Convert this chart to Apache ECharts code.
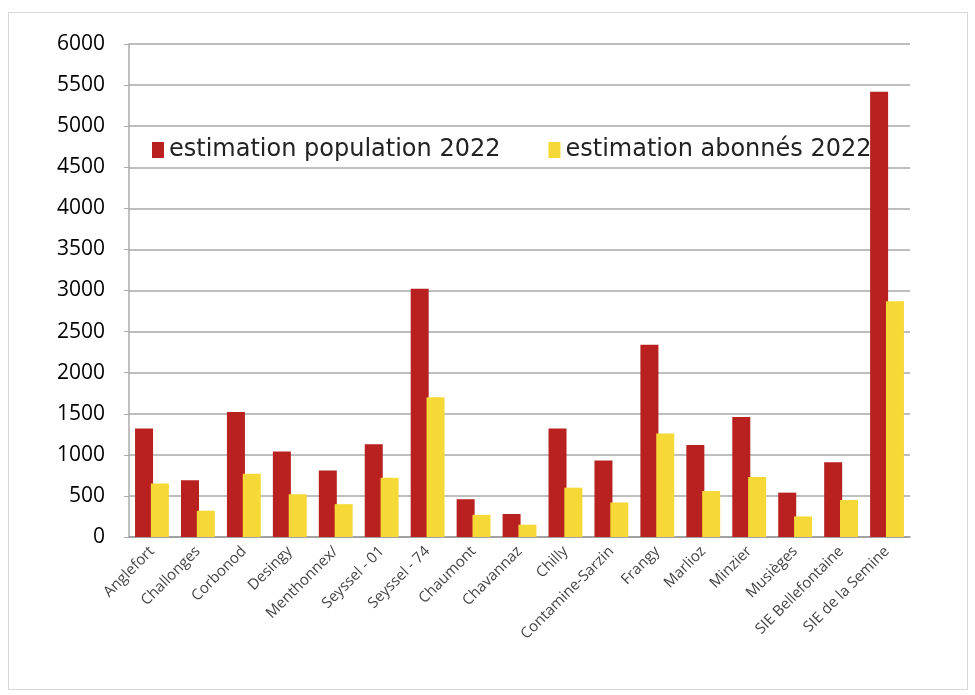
<!DOCTYPE html>
<html>
<head>
<meta charset="utf-8">
<style>
html,body{margin:0;padding:0;background:#fff;}
#main{position:absolute;left:8px;top:12px;width:960px;height:678px;border:1px solid #d8d8d8;box-sizing:border-box;}
</style>
</head>
<body>
<div id="main"></div>
<script src="https://cdn.jsdelivr.net/npm/echarts@6/dist/echarts.min.js"></script>
<script>
var communes = ['Anglefort', 'Challonges', 'Corbonod', 'Desingy', 'Menthonnex/', 'Seyssel - 01', 'Seyssel - 74',
    'Chaumont', 'Chavannaz', 'Chilly', 'Contamine-Sarzin', 'Frangy', 'Marlioz', 'Minzier', 'Musièges',
    'SIE Bellefontaine', 'SIE de la Semine'];
var population = [1320, 690, 1520, 1040, 810, 1130, 3020, 460, 280, 1320, 930, 2340, 1120, 1460, 540, 910, 5420];
var abonnes = [650, 320, 770, 520, 400, 720, 1700, 270, 150, 600, 420, 1260, 560, 730, 250, 450, 2870];
var yTicks = [0, 500, 1000, 1500, 2000, 2500, 3000, 3500, 4000, 4500, 5000, 5500, 6000];

var myChart = echarts.init(document.getElementById('main'));
var option = {
    backgroundColor: '#fff',
    textStyle: { fontFamily: 'Open Sans' },
    legend: {
        left: 138,
        top: 120,
        itemWidth: 12,
        itemHeight: 16,
        itemGap: 48,
        icon: 'rect',
        textStyle: { fontSize: 24, color: '#222', fontFamily: 'DejaVu Sans' },
        data: ['estimation population 2022', 'estimation abonnés 2022']
    },
    grid: { left: 120, right: 57, top: 31, bottom: 152 },
    xAxis: {
        type: 'category',
        data: communes,
        axisLine: { lineStyle: { color: '#999', width: 1.5 } },
        axisTick: { show: false },
        axisLabel: { rotate: 45, interval: 0, fontSize: 15, color: '#444', margin: 12 }
    },
    yAxis: {
        type: 'value',
        min: yTicks[0],
        max: yTicks[yTicks.length - 1],
        interval: 500,
        axisLine: { show: true, lineStyle: { color: '#aaa', width: 1.5 } },
        axisTick: { show: true, length: 5, lineStyle: { color: '#aaa' } },
        axisLabel: { fontSize: 21, color: '#000', margin: 24, formatter: function (v) { return String(v); } },
        splitLine: { lineStyle: { color: '#a8a8a8', width: 1.5 } }
    },
    series: [
        {
            name: 'estimation population 2022',
            type: 'bar',
            data: population,
            barWidth: 18,
            barGap: '-12%',
            itemStyle: { color: '#b8211f' }
        },
        {
            name: 'estimation abonnés 2022',
            type: 'bar',
            data: abonnes,
            barWidth: 18,
            itemStyle: { color: '#f6d836' }
        }
    ]
};
myChart.setOption(option);
</script>
</body>
</html>
